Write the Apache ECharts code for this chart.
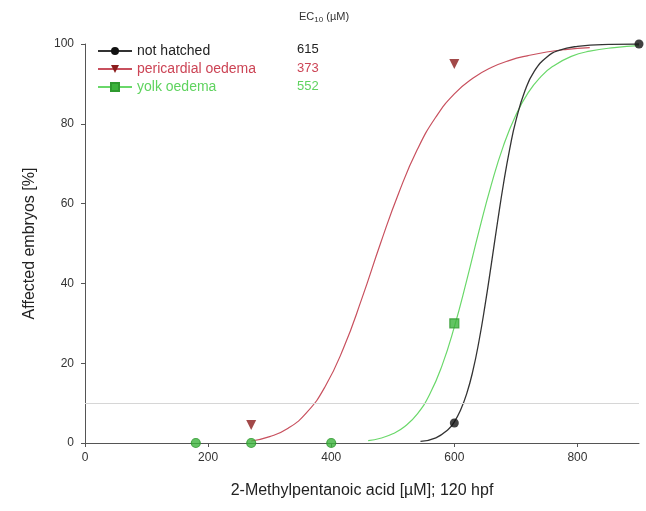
<!DOCTYPE html>
<html>
<head>
<meta charset="utf-8">
<script src="https://cdn.jsdelivr.net/npm/echarts@6/dist/echarts.min.js"></script>
<style>
  html, body { margin: 0; padding: 0; background: #fff; }
  #main { width: 646px; height: 511px; }
</style>
</head>
<body>
<div id="main"></div>
<script>
// series names and EC10 values (µM)
var seriesNames = ['not hatched', 'pericardial oedema', 'yolk oedema'];
var ec10Values = ['615', '373', '552'];

// measured points [concentration, % affected]
var notHatchedPts = [[600, 5], [900, 100]];
var pericardialPts = [[270, 4.5], [600, 95]];
var yolkPts = [[180, 0], [270, 0], [400, 0], [600, 30]];

// fitted curves
var notHatchedCurve = [[545, 0.4], [570, 1.3], [590, 3.4], [600, 5.3], [610, 8.2], [620, 12.3], [630, 18], [640, 25.5],
  [650, 34.6], [660, 44.7], [670, 55.2], [680, 65.1], [690, 73.7], [700, 80.8], [715, 88.4], [730, 93.2],
  [750, 96.7], [770, 98.4], [800, 99.4], [850, 99.9], [900, 100]];
var pericardialCurve = [[270, 0.5], [300, 1.6], [330, 3.7], [360, 7.6], [390, 14.1], [420, 23.8], [450, 36.3],
  [480, 50], [510, 62.8], [540, 73.6], [570, 81.7], [600, 87.5], [630, 91.4], [660, 94.1], [690, 95.9],
  [720, 97.1], [750, 98], [780, 98.6], [820, 99.1]];
var yolkCurve = [[460, 0.6], [480, 1.2], [500, 2.3], [520, 4.2], [540, 7.3], [560, 12.2], [580, 19.4], [600, 29.1],
  [620, 40.7], [640, 53.1], [660, 64.7], [680, 74.6], [700, 82.2], [720, 87.8], [740, 91.7], [760, 94.4],
  [790, 96.9], [820, 98.2], [860, 99.1], [900, 99.6]];

var xTicks = { min: 0, max: 900, interval: 200 };
var yTicks = { min: 0, max: 100, interval: 20 };

var black = '#111', red = '#c8505e', darkRed = '#8b1c1c', green = '#6ad86a', darkGreen = '#2f9a2f';
var textColors = ['#222', '#cc4455', '#5fd35f'];

var myChart = echarts.init(document.getElementById('main'));

var option = {
  backgroundColor: '#fff',
  animation: false,
  textStyle: { fontFamily: 'Liberation Sans, Arial, sans-serif' },
  grid: { left: 85, right: 7, top: 44, bottom: 68 },
  legend: {
    orient: 'vertical',
    left: 92,
    top: 39,
    itemWidth: 34,
    itemHeight: 10,
    itemGap: 4,
    data: seriesNames.map(function (n, i) {
      return { name: n, textStyle: { color: textColors[i], fontSize: 14 } };
    })
  },
  xAxis: {
    type: 'value',
    min: xTicks.min, max: xTicks.max, interval: xTicks.interval,
    name: '2-Methylpentanoic acid [µM]; 120 hpf',
    nameLocation: 'middle',
    nameGap: 40,
    nameTextStyle: { fontSize: 16, color: '#222' },
    axisLine: { lineStyle: { color: '#555' } },
    axisTick: { length: 4, lineStyle: { color: '#555' } },
    axisLabel: { color: '#333', fontSize: 12, margin: 9, showMaxLabel: false },
    splitLine: { show: false }
  },
  yAxis: {
    type: 'value',
    min: yTicks.min, max: yTicks.max, interval: yTicks.interval,
    name: 'Affected embryos [%]',
    nameLocation: 'middle',
    nameGap: 47,
    nameTextStyle: { fontSize: 16, color: '#222' },
    axisLine: { show: true, lineStyle: { color: '#555' } },
    axisTick: { show: true, length: 4, lineStyle: { color: '#555' } },
    axisLabel: { color: '#333', fontSize: 12, margin: 11 },
    splitLine: { show: false }
  },
  graphic: [
    { type: 'text', left: 299, top: 11, style: {
      text: '{a|EC}{s|10}{a| (µM)}',
      rich: { a: { fontSize: 11, fill: '#333' }, s: { fontSize: 8, fill: '#333', padding: [6, 0, 0, 0] } }
    } }
  ].concat(ec10Values.map(function (v, i) {
    return { type: 'text', left: 297, top: 43 + i * 18.5, style: { text: v, fontSize: 13, fill: textColors[i] } };
  })),
  series: [
    {
      name: seriesNames[0], type: 'line', data: notHatchedCurve, smooth: true, showSymbol: false,
      symbol: 'circle', symbolSize: 9, lineStyle: { color: '#333', width: 1.3 }, itemStyle: { color: black },
      z: 3,
      markLine: {
        silent: true, symbol: 'none', label: { show: false },
        lineStyle: { color: '#d6d6d6', type: 'solid', width: 1.2 },
        data: [{ yAxis: 10 }]
      }
    },
    {
      name: seriesNames[1], type: 'line', data: pericardialCurve, smooth: true, showSymbol: false,
      symbol: 'triangle', symbolRotate: 180, symbolSize: 9, lineStyle: { color: red, width: 1.2 }, itemStyle: { color: darkRed },
      z: 2
    },
    {
      name: seriesNames[2], type: 'line', data: yolkCurve, smooth: true, showSymbol: false,
      symbol: 'rect', symbolSize: 8, lineStyle: { color: green, width: 1.2 }, itemStyle: { color: '#3cb43c', borderColor: darkGreen, borderWidth: 1 },
      z: 2
    },
    {
      name: seriesNames[0], type: 'scatter', data: notHatchedPts, symbol: 'circle', symbolSize: 9,
      itemStyle: { color: black }, z: 5
    },
    {
      name: seriesNames[1], type: 'scatter', data: pericardialPts, symbol: 'triangle', symbolRotate: 180, symbolSize: 10,
      itemStyle: { color: darkRed }, z: 5
    },
    {
      name: seriesNames[2], type: 'scatter', data: yolkPts,
      symbol: function (val) { return val[1] === 0 ? 'circle' : 'rect'; },
      symbolSize: 9,
      itemStyle: { color: '#3cb43c', borderColor: darkGreen, borderWidth: 1.2 }, z: 5
    }
  ]
};

myChart.setOption(option);
</script>
</body>
</html>
